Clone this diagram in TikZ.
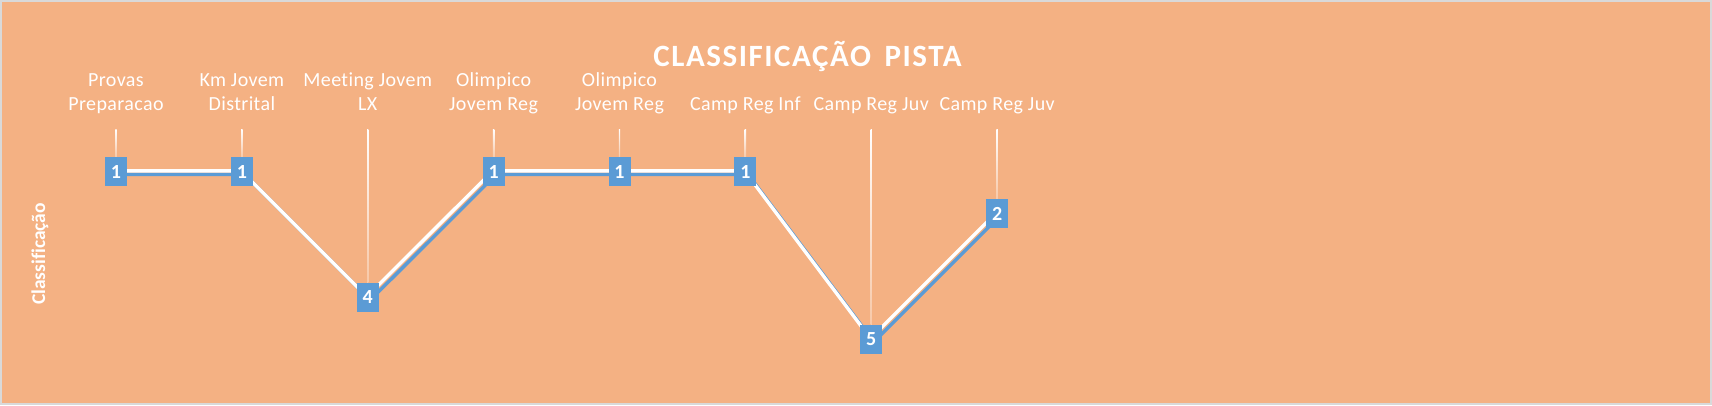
\documentclass[tikz,border=0pt]{standalone}
\usepackage{fontspec}
\setmainfont{Carlito}[Ligatures=NoCommon]
\usetikzlibrary{calc}
\definecolor{bgpeach}{HTML}{F4B183}
\definecolor{markblue}{HTML}{5B9BD5}
\definecolor{framegray}{HTML}{D9D9D9}
\newcommand\twolines[2]{\begin{tabular}[b]{@{}c@{}}#1\\#2\end{tabular}}
\begin{document}
\begin{tikzpicture}[x=1pt,y=-1pt,
  marker/.style={fill=markblue, minimum width=22pt, minimum height=29pt, inner sep=0pt,
    text=white, font=\fontsize{20}{20}\selectfont\bfseries},
  catlabel/.style={anchor=base, inner sep=0pt, text=white,
    font=\fontsize{20}{23.4}\selectfont\addfontfeatures{LetterSpace=2}},
  titlestyle/.style={anchor=base, inner sep=0pt, text=white,
    font=\fontsize{31}{32}\selectfont\bfseries\addfontfeatures{LetterSpace=5}},
  axisstyle/.style={anchor=base, inner sep=0pt, text=white, rotate=90,
    font=\fontsize{19.5}{19.5}\selectfont\bfseries},
  seriesblue/.style={draw=markblue, line width=3.4pt, line join=miter,
    transform canvas={shift={(2.6pt,-2.6pt)}}},
  serieswhite/.style={draw=white, line width=3.4pt, line join=miter,
    transform canvas={shift={(-0.8pt,0.8pt)}}},
  dropline/.style={top color=white, bottom color=white!30!bgpeach}
]
\useasboundingbox (0,0) rectangle (1712,405);
\draw[framegray, line width=2pt, fill=bgpeach] (1,1) rectangle (1711,404);

\node[titlestyle] (title) at (807.5,66.7) {CLASSIFICAÇÃO\hspace{5pt} PISTA};
\node[axisstyle] (axis) at (45,254) {Classificação};

% category labels
\node[catlabel] (lab1) at (116,110)   {\twolines{Provas}{Preparacao}};
\node[catlabel] (lab2) at (241.9,110) {\twolines{Km Jovem}{Distrital}};
\node[catlabel] (lab3) at (367.7,110) {\twolines{Meeting Jovem}{LX}};
\node[catlabel] (lab4) at (493.6,110) {\twolines{Olimpico}{Jovem Reg}};
\node[catlabel] (lab5) at (619.5,110) {\twolines{Olimpico}{Jovem Reg}};
\node[catlabel] (lab6) at (745.4,110) {Camp Reg Inf};
\node[catlabel] (lab7) at (871.2,110) {Camp Reg Juv};
\node[catlabel] (lab8) at (997.1,110) {Camp Reg Juv};

% drop line tops
\coordinate (d1) at (116,129);
\coordinate (d2) at (241.9,129);
\coordinate (d3) at (367.7,129);
\coordinate (d4) at (493.6,129);
\coordinate (d5) at (619.5,129);
\coordinate (d6) at (745.4,129);
\coordinate (d7) at (871.2,129);
\coordinate (d8) at (997.1,129);

% marker positions (value v -> y = 171.7 + (v-1)*41.9)
\coordinate (p1) at (116,171.7);
\coordinate (p2) at (241.9,171.7);
\coordinate (p3) at (367.7,297.4);
\coordinate (p4) at (493.6,171.7);
\coordinate (p5) at (619.5,171.7);
\coordinate (p6) at (745.4,171.7);
\coordinate (p7) at (871.2,339.3);
\coordinate (p8) at (997.1,213.5);

% drop lines
\foreach \i in {1,...,8} {
  \shade[dropline] ($(d\i)+(-0.7,0)$) rectangle ($(p\i)+(0.7,-14.5)$);
}

% series line
\draw[seriesblue] (p1) -- (p2) -- (p3) -- (p4) -- (p5) -- (p6) -- (p7) -- (p8);
\draw[serieswhite] (p1) -- (p2) -- (p3) -- (p4) -- (p5) -- (p6) -- (p7) -- (p8);

% markers
\node[marker] (m1) at (p1) {1};
\node[marker] (m2) at (p2) {1};
\node[marker] (m3) at (p3) {4};
\node[marker] (m4) at (p4) {1};
\node[marker] (m5) at (p5) {1};
\node[marker] (m6) at (p6) {1};
\node[marker] (m7) at (p7) {5};
\node[marker] (m8) at (p8) {2};
\end{tikzpicture}
\end{document}
